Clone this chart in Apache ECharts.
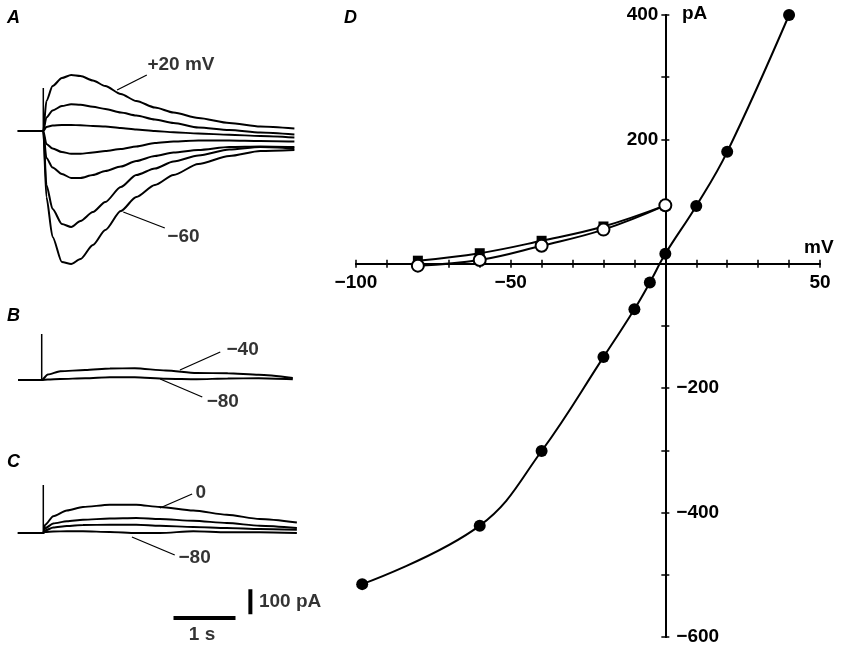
<!DOCTYPE html>
<html>
<head>
<meta charset="utf-8">
<script src="https://cdn.jsdelivr.net/npm/echarts@6.0.0/dist/echarts.min.js"></script>
<style>
html, body { margin: 0; padding: 0; background: #fff; }
#main { width: 845px; height: 649px; }
</style>
</head>
<body>
<div id="main"></div>
<script>
// A: currents during steps to +20 ... -60 mV (time s, current pA)
var tA = [-0.41, -0.02, 0, 0.05, 0.15, 0.3, 0.45, 0.6, 0.8, 1.0, 1.25, 1.5, 1.8, 2.1, 2.5, 3.0, 3.5, 4.05];
var aP20 = [0, 0, 0, 120, 180, 212, 224, 220, 202, 180, 148, 120, 94, 74, 52, 32, 18, 10];
var aP10 = [0, 0, 0, 54, 82, 100, 107, 105, 97, 88, 74, 62, 46, 32, 14, 4, -6, -14];
var a0 = [0, 0, 0, 16, 22, 24, 24, 23, 20, 18, 12, 6, 0, -5, -10, -15, -20, -26];
var aM10 = [0, 0, 0, -52, -70, -84, -91, -91, -86, -80, -72, -62, -48, -42, -38, -38, -40, -42];
var aM20 = [0, 0, 0, -108, -146, -172, -188, -188, -176, -160, -142, -120, -100, -86, -76, -64, -62, -64];
var aM40 = [0, 0, 0, -216, -312, -372, -384, -360, -324, -284, -224, -176, -150, -122, -98, -74, -64, -70];
var aM60 = [0, 0, 0, -264, -424, -524, -532, -512, -456, -396, -320, -264, -216, -176, -132, -100, -80, -76];

// B
var tB = [-0.38, 0, 0.1, 0.3, 0.7, 1.1, 1.5, 2.0, 2.5, 3.0, 3.5, 4.05];
var bM40 = [0, 0, 22, 35, 40, 46, 47, 38, 28, 27, 21, 8];
var bM80 = [0, 0, 2, 4, 7, 11, 11, 5, 3, 6, 7, 3];

// C
var tC = [-0.41, 0, 0.03, 0.16, 0.38, 0.64, 1.07, 1.5, 1.88, 2.42, 2.96, 3.49, 4.09];
var c0 = [0, 0, 33, 67, 90, 104, 113, 113, 104, 90, 73, 56, 42];
var cM20 = [0, 0, 19, 38, 47, 53, 58, 60, 56, 49, 40, 29, 20];
var cM40 = [0, 0, 10, 22, 28, 32, 33, 33, 29, 24, 20, 16, 13];
var cM80 = [0, 0, 4, 6, 7, 7, 4, 0, 0, 7, 3, 3, 0];

// stimulus artefact tops (pA)
var artefactTop = [172, 184, 192];

// scale bars: 1 s and 100 pA
var barTime = [2.1, 3.1];
var barTimeLevel = -340;
var barCurrent = [-325, -225];
var barCurrentTime = 3.34;

// D: I-V relation (mV, pA)
var vFilled = [-98, -60, -40, -20, -10, -5, 0, 10, 20, 40];
var iFilled = [-515, -421, -301, -150, -73, -30, 16, 93, 180, 400];
var vOpen = [-80, -60, -40, -20, 0];
var iOpen = [-3, 6, 29, 55, 94];
var vSquare = [-80, -60, -40, -20, 0];
var iSquare = [5, 17, 37, 60, 94];
var vRange = [-100, 50];
var iRange = [-600, 400];

// labels on traces: [text, t, pA] centre, leader line [t1, i1, t2, i2]
var labelsA = [['+20 mV', 2.22, 264, [1.19, 164, 1.67, 224]], ['\u221260', 2.26, -424, [1.29, -324, 1.96, -388]]];
var labelsB = [['\u221240', 3.24, 120, [2.23, 40, 2.88, 112]], ['\u221280', 2.92, -88, [1.91, 4, 2.59, -68]]];
var labelsC = [['0', 2.54, 160, [1.88, 100, 2.4, 156]], ['\u221280', 2.44, -100, [1.43, -16, 2.12, -88]],
  ['1 s', 2.56, -408, null], ['100 pA', 3.98, -276, null]];

var FONT = 'Liberation Sans';

function pairs(xs, ys) {
  return xs.map(function (x, i) { return [x, ys[i]]; });
}

function trace(idx, t, vals) {
  return {
    type: 'line', xAxisIndex: idx, yAxisIndex: idx,
    data: pairs(t, vals), symbol: 'none', smooth: 0.25, smoothMonotone: 'x',
    lineStyle: { color: '#000', width: 2 }, silent: true, z: 2
  };
}

function seg(idx, pts, w) {
  return {
    type: 'line', xAxisIndex: idx, yAxisIndex: idx, data: pts, symbol: 'none',
    lineStyle: { color: '#000', width: w }, silent: true, z: 3
  };
}

function labelSeries(idx, list) {
  var out = [{
    type: 'scatter', xAxisIndex: idx, yAxisIndex: idx, symbolSize: 1,
    itemStyle: { color: 'transparent' }, silent: true, z: 5,
    label: { show: true, position: 'inside', formatter: '{b}', color: '#000',
      fontFamily: FONT, fontSize: 19, fontWeight: 'bold' },
    data: list.map(function (l) { return { name: l[0], value: [l[1], l[2]] }; })
  }];
  list.forEach(function (l) {
    if (l[3]) out.push(seg(idx, [[l[3][0], l[3][1]], [l[3][2], l[3][3]]], 1.3));
  });
  return out;
}

function fmtMinus(v) {
  return v < 0 ? '\u2212' + (-v) : String(v);
}

function hiddenX(grid) {
  return { gridIndex: grid, type: 'value', min: -0.5, max: 4.5, show: false };
}
function hiddenY(grid, mn, mx) {
  return { gridIndex: grid, type: 'value', min: mn, max: mx, show: false };
}

// panel D grid; axes are shifted onto the origin with offsets
var gD = { left: 356, top: 15, width: 464, height: 622, outerBoundsMode: 'none' };
var zeroFromTop = gD.height * iRange[1] / (iRange[1] - iRange[0]);
var zeroFromLeft = gD.width * (-vRange[0]) / (vRange[1] - vRange[0]);

var axisLine = { onZero: false, lineStyle: { color: '#000', width: 2 } };
var axisTick = { show: true, length: 4, lineStyle: { color: '#000', width: 1.5 } };
var labelStyle = { color: '#000', fontFamily: FONT, fontSize: 19, fontWeight: 'bold' };

function ivSeries(v, i, symbol, size, itemStyle, z) {
  return {
    type: 'line', xAxisIndex: 0, yAxisIndex: 0, data: pairs(v, i), smooth: 0.4,
    symbol: symbol, symbolSize: size, itemStyle: itemStyle,
    lineStyle: { color: '#000', width: 2 }, z: z
  };
}

var series = [];
// D
series.push(ivSeries(vSquare, iSquare, 'rect', 10, { color: '#000' }, 3));
series.push(ivSeries(vOpen, iOpen, 'circle', 12, { color: '#fff', borderColor: '#000', borderWidth: 2 }, 4));
series.push(ivSeries(vFilled, iFilled, 'circle', 12, { color: '#000' }, 4));
// A
[aP20, aP10, a0, aM10, aM20, aM40, aM60].forEach(function (v) { series.push(trace(2, tA, v)); });
series.push(seg(2, [[0, artefactTop[0]], [0, 0]], 1.5));
series = series.concat(labelSeries(2, labelsA));
// B
[bM40, bM80].forEach(function (v) { series.push(trace(3, tB, v)); });
series.push(seg(3, [[0, artefactTop[1]], [0, 0]], 1.5));
series = series.concat(labelSeries(3, labelsB));
// C
[c0, cM20, cM40, cM80].forEach(function (v) { series.push(trace(4, tC, v)); });
series.push(seg(4, [[0, artefactTop[2]], [0, 0]], 1.5));
series.push(seg(4, [[barTime[0], barTimeLevel], [barTime[1], barTimeLevel]], 4));
series.push(seg(4, [[barCurrentTime, barCurrent[0]], [barCurrentTime, barCurrent[1]]], 4));
series = series.concat(labelSeries(4, labelsC));

function letter(txt, x, y) {
  return { type: 'text', left: x, top: y, style: { text: txt, fill: '#000',
    font: 'italic bold 18px "' + FONT + '"' } };
}
function word(txt, x, y) {
  return { type: 'text', left: x, top: y, style: { text: txt, fill: '#000',
    font: 'bold 19px "' + FONT + '"' } };
}

var chart = echarts.init(document.getElementById('main'), null, { renderer: 'canvas' });
chart.setOption({
  animation: false,
  backgroundColor: '#fff',
  grid: [
    gD,
    { left: 0, top: 0, width: 10, height: 10, outerBoundsMode: 'none' },
    { left: 12.3, top: 56, width: 310, height: 225, outerBoundsMode: 'none' },
    { left: 10.7, top: 330, width: 310, height: 75, outerBoundsMode: 'none' },
    { left: 12.3, top: 483, width: 310, height: 175, outerBoundsMode: 'none' }
  ],
  xAxis: [
    { gridIndex: 0, type: 'value', min: vRange[0], max: vRange[1], interval: 10, position: 'bottom',
      offset: -(gD.height - zeroFromTop),
      axisLine: axisLine, axisTick: axisTick, splitLine: { show: false },
      axisLabel: Object.assign({ margin: 9, showMinLabel: true, showMaxLabel: true, hideOverlap: false,
        formatter: function (v) { return (v % 50 === 0 && v !== 0) ? fmtMinus(v) : ''; } }, labelStyle) },
    { gridIndex: 0, type: 'value', min: vRange[0], max: vRange[1], interval: 10, position: 'top',
      offset: -zeroFromTop,
      axisLine: axisLine, axisTick: axisTick, splitLine: { show: false }, axisLabel: { show: false } },
    hiddenX(2), hiddenX(3), hiddenX(4)
  ],
  yAxis: [
    { gridIndex: 0, type: 'value', min: iRange[0], max: iRange[1], interval: 100, position: 'left',
      offset: -zeroFromLeft,
      axisLine: axisLine, axisTick: axisTick, splitLine: { show: false },
      axisLabel: Object.assign({ margin: 7, showMinLabel: true, showMaxLabel: true, hideOverlap: false,
        formatter: function (v) { return (v > 0 && v % 200 === 0) ? String(v) : ''; } }, labelStyle) },
    { gridIndex: 0, type: 'value', min: iRange[0], max: iRange[1], interval: 100, position: 'right',
      offset: -(gD.width - zeroFromLeft),
      axisLine: axisLine, axisTick: axisTick, splitLine: { show: false },
      axisLabel: Object.assign({ margin: 11, showMinLabel: true, showMaxLabel: true, hideOverlap: false,
        formatter: function (v) { return (v < 0 && v % 200 === 0) ? fmtMinus(v) : ''; } }, labelStyle) },
    hiddenY(2, -600, 300), hiddenY(3, -100, 200), hiddenY(4, -500, 200)
  ],
  graphic: [
    letter('A', 7, 9), letter('B', 7, 307), letter('C', 7, 453), letter('D', 344, 9),
    word('pA', 682, 4), word('mV', 804, 238)
  ],
  series: series
});
</script>
</body>
</html>
